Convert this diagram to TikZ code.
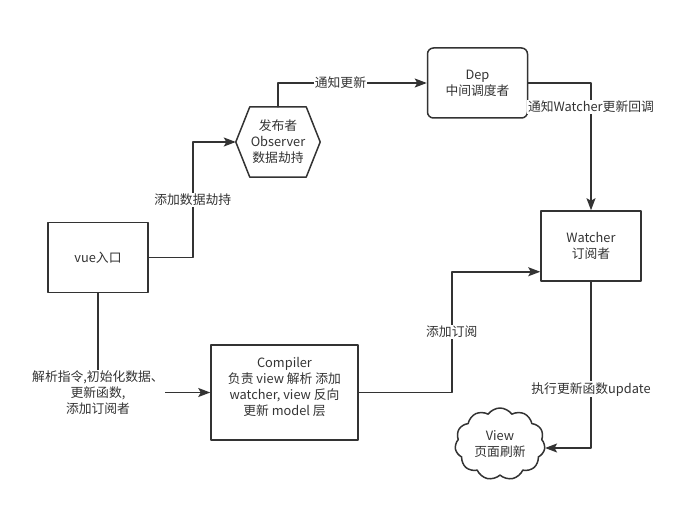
\documentclass[tikz,border=0pt]{standalone}
\usepackage{fontspec}
\setmainfont{Noto Sans CJK SC}
\usetikzlibrary{arrows.meta,shapes.symbols,calc}
\definecolor{ink}{HTML}{333333}

\begin{document}
\begin{tikzpicture}[x=1pt,y=-1pt,>={Stealth[length=12pt,width=9pt,inset=2.5pt]},line cap=round,line join=round,
  every node/.style={font=\fontsize{12.8}{16}\selectfont,text=ink,align=center},
  box/.style={draw=ink,line width=1.5pt,minimum width=100pt,minimum height=70pt,inner sep=2pt},
  conn/.style={draw=ink,line width=1.6pt,->},
  tag/.style={fill=white,inner sep=1pt}]
  \useasboundingbox (0,0) rectangle (673,511);

  % the boxes
  \node[box] (vue) at (98,257.5) {vue入口};
  \node[box,rounded corners=6pt] (dep) at (477.5,83) {Dep\\中间调度者};
  \node[box] (watcher) at (591,246) {Watcher\\订阅者};
  \node[box,minimum width=147pt,minimum height=95pt] (comp) at (284.5,392.5)
    {Compiler\\负责 view 解析 添加\\watcher, view 反向\\更新 model 层\\[-4pt]\mbox{}};
  \node[draw=ink,line width=1.5pt,cloud,cloud puffs=11,cloud puff arc=110,aspect=1.25,
    minimum width=90pt,minimum height=72pt,inner sep=0pt] (view) at (500,444) {View\\页面刷新};

  % hexagon round the observer
  \node[minimum width=84pt,minimum height=70pt] (obs) at (278,142) {发布者\\Observer\\数据劫持};
  \draw[draw=ink,line width=1.5pt] (obs.west) -- ($(obs.north west)+(14,0)$) -- ($(obs.north east)+(-14,0)$)
    -- (obs.east) -- ($(obs.south east)+(-14,0)$) -- ($(obs.south west)+(14,0)$) -- cycle;

  % connectors
  \draw[conn] (vue.east) -- ++(44,0) |- node[tag,pos=0.25] (t1) {添加数据劫持} (obs.west);
  \draw[conn] (obs.north) |- node[tag,pos=0.71] (t2) {通知更新} (dep.west);
  \draw[conn] (dep.east) -| node[tag,pos=0.594] (t3) {通知Watcher更新回调} (watcher.north);
  \draw[conn] (comp.east) -- ++(93,0) |- node[tag,pos=0.25] (t4) {添加订阅} ([yshift=10pt]watcher.south west);
  \draw[conn] (watcher.south) |- node[tag,pos=0.323] (t5) {执行更新函数update} ([yshift=-4pt]view.east);
  \draw[conn] (vue.south) |- node[tag,pos=0.5] (t6) {解析指令,初始化数据、\\更新函数,\\添加订阅者} (comp.west);
\end{tikzpicture}
\end{document}
